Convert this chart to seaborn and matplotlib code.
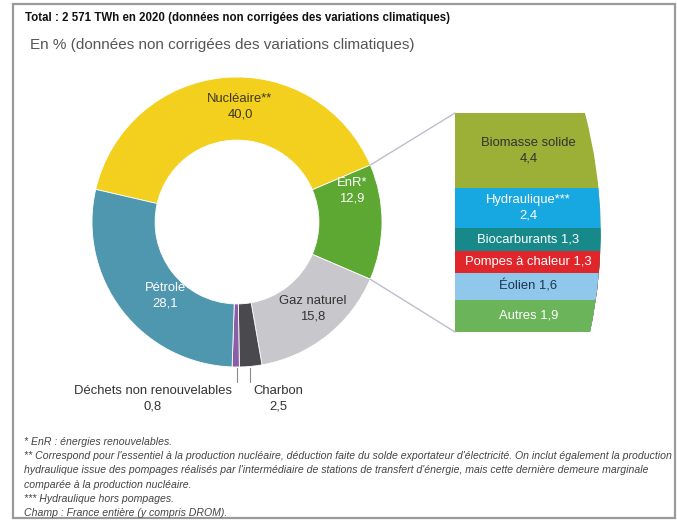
import matplotlib
matplotlib.use("Agg")
import matplotlib.pyplot as plt
import seaborn as sns
import numpy as np
from matplotlib.path import Path
from matplotlib.patches import PathPatch, Rectangle, ConnectionPatch
from matplotlib.lines import Line2D

# Data: energy mix 2020 (%)
mix_labels = ["Nucléaire**", "EnR*", "Gaz naturel", "Charbon", "Déchets non renouvelables", "Pétrole"]
mix_values = [40.0, 12.9, 15.8, 2.5, 0.8, 28.1]
mix_colors = ["#F3CF1E", "#5CA832", "#C8C8CC", "#4A4A4E", "#8C5EA6", "#4E97AE"]

# Renewables breakdown (%)
enr_labels = ["Biomasse solide", "Hydraulique***", "Biocarburants", "Pompes à chaleur", "Éolien", "Autres"]
enr_values = [4.4, 2.4, 1.3, 1.3, 1.6, 1.9]
enr_colors = ["#9CAF37", "#17A7E1", "#17898B", "#E1262B", "#8FC8EB", "#6BB45A"]

footnotes = [
    "* EnR : énergies renouvelables.",
    "** Correspond pour l'essentiel à la production nucléaire, déduction faite du solde exportateur d'électricité. On inclut également la production",
    "hydraulique issue des pompages réalisés par l'intermédiaire de stations de transfert d'énergie, mais cette dernière demeure marginale",
    "comparée à la production nucléaire.",
    "*** Hydraulique hors pompages.",
    "Champ : France entière (y compris DROM).",
]

W, H = 677, 523


def px(x, y):
    # pixel position -> figure fraction
    return x / W, 1 - y / H


def fmt(v):
    return f"{v:.1f}".replace(".", ",")


sns.set_theme(style="white")
plt.rcParams["font.family"] = ["Liberation Sans", "DejaVu Sans"]

fig = plt.figure(figsize=(W / 100, H / 100), dpi=100)
fig.patch.set_facecolor("white")

# frame
fig.add_artist(Rectangle(px(13, 518), (675 - 13) / W, (518 - 4) / H,
                         transform=fig.transFigure, fill=False,
                         edgecolor="#9a9a9a", lw=1.6))

# titles
fig.text(*px(25, 18), "Total : 2 571 TWh en 2020 (données non corrigées des variations climatiques)",
         fontsize=8.3, fontweight="bold", color="#111111", va="center")
fig.text(*px(30, 45), "En % (données non corrigées des variations climatiques)",
         fontsize=11, color="#555555", va="center")

# Donut
cx, cy, r = 237, 222, 145
ax = fig.add_axes([(cx - r) / W, 1 - (cy + r) / H, 2 * r / W, 2 * r / H])
wedges, _ = ax.pie(mix_values, colors=mix_colors, startangle=167, counterclock=False,
                   wedgeprops=dict(width=0.435, edgecolor="white", linewidth=0.6))
ax.set_xlim(-1, 1)
ax.set_ylim(-1, 1)
ax.set_aspect("equal", adjustable="box")
ax.axis("off")

label_pos = {
    "Nucléaire**": (240, 107, "#3a3720"),
    "EnR*": (352, 191, "white"),
    "Gaz naturel": (313, 309, "#333333"),
    "Pétrole": (165, 296, "white"),
    "Déchets non renouvelables": (153, 399, "#333333"),
    "Charbon": (278, 399, "#333333"),
}
for lab, val in zip(mix_labels, mix_values):
    x, y, c = label_pos[lab]
    fig.text(*px(x, y), f"{lab}\n{fmt(val)}", ha="center", va="center",
             fontsize=9.4, color=c, linespacing=1.4)

# leader lines for small wedges
for lx in (237, 250):
    fig.add_artist(Line2D([lx / W, lx / W], [1 - 368 / H, 1 - 382 / H],
                          transform=fig.transFigure, color="#8a8a8a", lw=0.8))

# Renewables stacked block
bx0, bx1, by0, by1 = 455, 602, 113, 332
axb = fig.add_axes([bx0 / W, 1 - by1 / H, (bx1 - bx0) / W, (by1 - by0) / H])
total = sum(enr_values)
tops = [sum(enr_values[i:]) for i in range(len(enr_values))]
for top, col in zip(tops, enr_colors):
    sns.barplot(x=["EnR"], y=[top], color=col, width=1, saturation=1,
                linewidth=0, ax=axb)
axb.set_xlim(-0.5, 0.5)
axb.set_ylim(0, total)
axb.axis("off")

# curved right edge
verts = [(-0.5, 0), (0.418, 0), (0.58, total / 2), (0.384, total), (-0.5, total), (-0.5, 0)]
codes = [Path.MOVETO, Path.LINETO, Path.CURVE3, Path.CURVE3, Path.LINETO, Path.CLOSEPOLY]
clip = PathPatch(Path(verts, codes), transform=axb.transData, facecolor="none", edgecolor="none")
axb.add_patch(clip)
for p in axb.patches:
    if p is not clip:
        p.set_clip_path(clip)

enr_text_colors = ["#333333", "white", "white", "white", "#1f3550", "white"]
for lab, val, top, tc in zip(enr_labels, enr_values, tops, enr_text_colors):
    if lab in ("Biomasse solide", "Hydraulique***"):
        txt = f"{lab}\n{fmt(val)}"
    else:
        txt = f"{lab} {fmt(val)}"
    axb.text(0, top - val / 2, txt, ha="center", va="center", fontsize=9.4,
             color=tc, linespacing=1.4)

# connecting lines from EnR wedge to the block
enr_w = wedges[1]
for ang, yb in ((enr_w.theta2, total), (enr_w.theta1, 0)):
    a = np.deg2rad(ang)
    con = ConnectionPatch(xyA=(np.cos(a), np.sin(a)), coordsA=ax.transData,
                          xyB=(-0.5, yb), coordsB=axb.transData,
                          color="#bdbdcc", lw=1)
    fig.add_artist(con)

# footnotes
for i, line in enumerate(footnotes):
    fig.text(*px(24, 442 + i * 14.2), line, fontsize=7.6, style="italic",
             color="#444444", va="center")

fig.savefig("out.png", dpi=100)
